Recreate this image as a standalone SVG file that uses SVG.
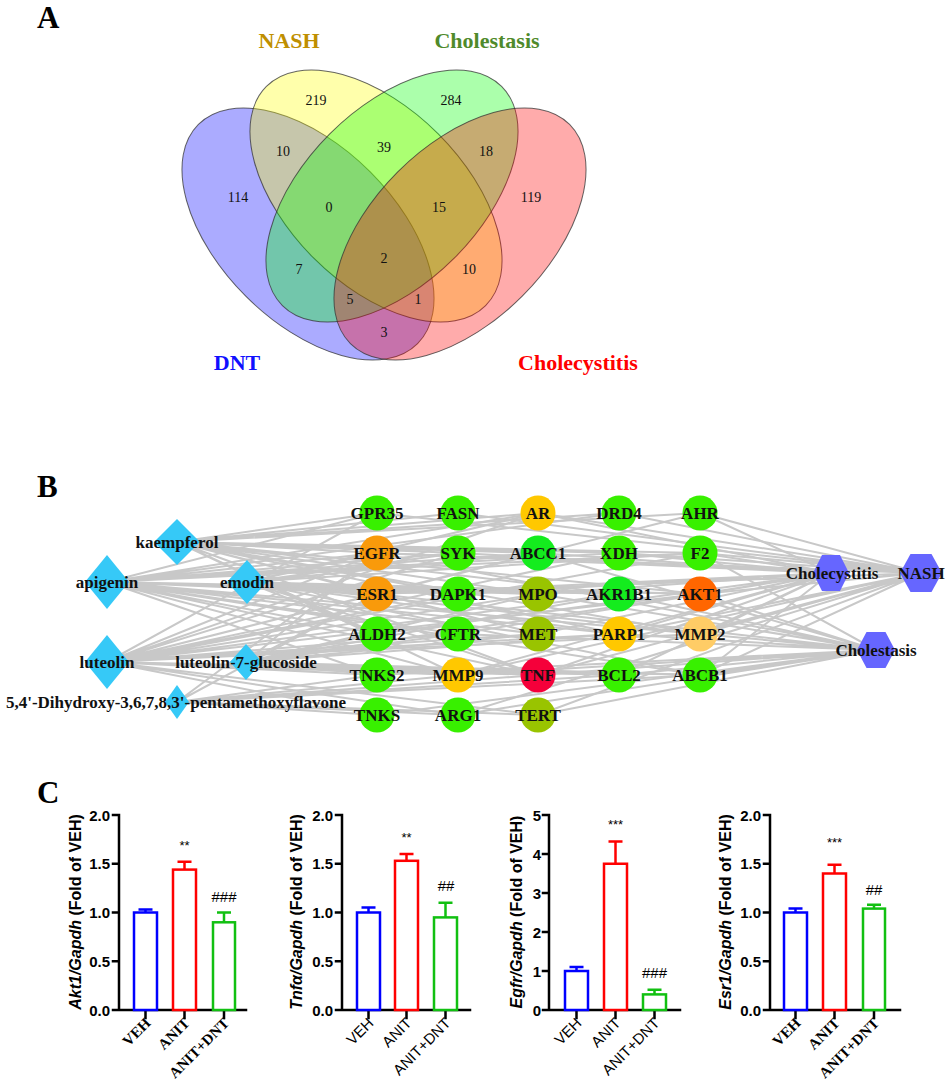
<svg xmlns="http://www.w3.org/2000/svg" width="945" height="1085" viewBox="0 0 945 1085">
<style>
.panel{font-family:"Liberation Serif",serif;font-weight:bold;font-size:31px}
.vn{font-family:"Liberation Serif",serif;font-size:14px;text-anchor:middle;fill:#111}
.vl{font-family:"Liberation Serif",serif;font-weight:bold;font-size:22px;text-anchor:middle}
.ell{stroke:#333;stroke-width:1;stroke-opacity:0.75;fill-opacity:0.33}
.edges path{stroke:#c8c8c8;stroke-width:2;fill:none}
.dia{fill:#36c9f7}
.hex{fill:#6666ff}
.nl{font-family:"Liberation Serif",serif;font-weight:bold;font-size:17px;text-anchor:middle;fill:#111}
.g{fill:#38f000}
.g2{fill:#14ec1e}
.or{fill:#f99a0b}
.au{fill:#ffc800}
.ol{fill:#99c400}
.ax{stroke:#000;stroke-width:2.5;fill:none;stroke-linecap:square}
.tk{font-family:"Liberation Sans",sans-serif;font-weight:bold;font-size:15px;text-anchor:end}
.yl{font-family:"Liberation Sans",sans-serif;font-weight:bold;font-size:16px;text-anchor:middle}
.it{font-style:italic}
.xs{font-family:"Liberation Serif",serif;font-weight:bold;font-size:15px;text-anchor:end}
.xa{font-family:"Liberation Sans",sans-serif;font-size:15px;text-anchor:end}
.st{font-family:"Liberation Sans",sans-serif;font-size:13px;text-anchor:middle}
.hs{font-family:"Liberation Sans",sans-serif;font-size:15px;text-anchor:middle}
.bb{fill:#fff;stroke:#0000ff;stroke-width:2.5}
.br{fill:#fff;stroke:#ff0000;stroke-width:2.5}
.bg{fill:#fff;stroke:#11c011;stroke-width:2.5}
.eb{stroke-width:2.5;fill:none}
</style>

<!-- Panel A -->
<text class="panel" x="37" y="28">A</text>
<g id="venn">
  <ellipse class="ell" cx="308" cy="234" rx="155" ry="88" transform="rotate(45 308 234)" fill="#0000ff"/>
  <ellipse class="ell" cx="376" cy="196" rx="155" ry="88" transform="rotate(45 376 196)" fill="#ffff00"/>
  <ellipse class="ell" cx="392" cy="196" rx="155" ry="88" transform="rotate(-45 392 196)" fill="#00ff00"/>
  <ellipse class="ell" cx="460" cy="234" rx="155" ry="88" transform="rotate(-45 460 234)" fill="#ff0000"/>
  <text class="vl" x="289" y="48" fill="#bf8f00">NASH</text>
  <text class="vl" x="487" y="48" fill="#4f8a2b">Cholestasis</text>
  <text class="vl" x="237" y="370" fill="#1010ff">DNT</text>
  <text class="vl" x="578" y="370" fill="#ff0000">Cholecystitis</text>
  <text class="vn" x="316" y="105">219</text>
  <text class="vn" x="451" y="105">284</text>
  <text class="vn" x="283" y="156">10</text>
  <text class="vn" x="384" y="152">39</text>
  <text class="vn" x="486" y="156">18</text>
  <text class="vn" x="238" y="202">114</text>
  <text class="vn" x="329" y="212">0</text>
  <text class="vn" x="439" y="212">15</text>
  <text class="vn" x="531" y="202">119</text>
  <text class="vn" x="384" y="263">2</text>
  <text class="vn" x="299" y="274">7</text>
  <text class="vn" x="469" y="274">10</text>
  <text class="vn" x="350" y="304">5</text>
  <text class="vn" x="418" y="304">1</text>
  <text class="vn" x="384" y="337">3</text>
</g>

<!-- Panel B -->
<text class="panel" x="37" y="497">B</text>
<g id="connectors" class="edges">
  <path d="M177 542L377 513M177 542L377 553M177 542L377 594M177 542L377 634M177 542L458 513M177 542L458 553M177 542L458 594M177 542L538 513M177 542L538 553M177 542L538 594M177 542L538 634M177 542L619 553M177 542L619 594M177 542L700 594M177 542L700 553M177 542L700 634M177 542L619 634M177 542L538 675M177 542L619 513M177 542L700 513M177 542L458 675"/>
  <path d="M107 582L377 513M107 582L377 553M107 582L377 594M107 582L377 634M107 582L377 675M107 582L458 553M107 582L458 594M107 582L458 634M107 582L458 675M107 582L538 513M107 582L538 553M107 582L538 594M107 582L538 634M107 582L619 553M107 582L619 594M107 582L700 594M107 582L700 553M107 582L619 634M107 582L700 634M107 582L538 675M107 582L700 675M107 582L619 513"/>
  <path d="M247 582L377 553M247 582L377 594M247 582L377 634M247 582L458 553M247 582L458 594M247 582L538 513M247 582L538 553M247 582L538 594M247 582L619 594M247 582L700 594M247 582L700 634M247 582L619 634M247 582L538 675M247 582L700 675M247 582L700 553"/>
  <path d="M107 662L377 513M107 662L377 553M107 662L377 594M107 662L377 675M107 662L377 715M107 662L458 553M107 662L458 594M107 662L458 634M107 662L458 675M107 662L458 715M107 662L538 513M107 662L538 553M107 662L538 594M107 662L538 634M107 662L538 675M107 662L538 715M107 662L619 553M107 662L619 594M107 662L619 634M107 662L619 675M107 662L700 594M107 662L700 634M107 662L700 675M107 662L700 553M107 662L700 513"/>
  <path d="M246 662L377 553M246 662L377 594M246 662L377 634M246 662L377 675M246 662L458 634M246 662L458 675M246 662L538 594M246 662L538 634M246 662L538 675M246 662L619 594M246 662L619 634M246 662L619 675M246 662L700 594M246 662L700 675"/>
  <path d="M177 702L377 715M177 702L377 675M177 702L458 715M177 702L538 715M177 702L458 675M177 702L538 675M177 702L377 594M177 702L377 553M177 702L619 675M177 702L700 675"/>
  <path d="M831 573L377 553M831 573L377 594M831 573L458 553M831 573L458 594M831 573L538 513M831 573L538 553M831 573L538 594M831 573L538 675M831 573L700 594M831 573L700 553M831 573L700 634M831 573L700 513M831 573L619 553M831 573L619 634M831 573L700 675M831 573L619 675M831 573L458 675M831 573L538 634M831 573L458 634M831 573L377 634"/>
  <path d="M921 573L700 513M921 573L700 553M921 573L700 594M921 573L700 634M921 573L700 675M921 573L377 594M921 573L377 553M921 573L458 513M921 573L377 513M921 573L538 675M921 573L619 553M921 573L538 513M921 573L458 675M921 573L538 715M921 573L458 715M921 573L619 634M921 573L619 513"/>
  <path d="M876 650L377 553M876 650L377 594M876 650L538 675M876 650L700 594M876 650L700 634M876 650L700 675M876 650L538 553M876 650L458 634M876 650L458 675M876 650L538 594M876 650L377 715M876 650L377 675M876 650L619 675M876 650L619 634M876 650L700 553M876 650L458 715M876 650L538 715M876 650L619 594"/>
</g>

<g id="kaempferol"><polygon class="dia" points="154,542 177,519 200,542 177,565"/><text class="nl" x="177" y="548">kaempferol</text></g>
<g id="apigenin"><polygon class="dia" points="85,582 107,555 129,582 107,609"/><text class="nl" x="107" y="588">apigenin</text></g>
<g id="emodin"><polygon class="dia" points="227,582 247,560 267,582 247,604"/><text class="nl" x="247" y="588">emodin</text></g>
<g id="luteolin"><polygon class="dia" points="85,662 107,635 129,662 107,689"/><text class="nl" x="107" y="668">luteolin</text></g>
<g id="luteolin-7-glucoside"><polygon class="dia" points="230,662 246,644 262,662 246,680"/><text class="nl" x="246" y="668">luteolin-7-glucoside</text></g>
<g id="pentamethoxyflavone"><polygon class="dia" points="165,702 177,685 189,702 177,719"/><text class="nl" x="176" y="708">5,4'-Dihydroxy-3,6,7,8,3'-pentamethoxyflavone</text></g>

<g id="GPR35"><circle class="g" cx="377" cy="513" r="17.5"/><text class="nl" x="377" y="519">GPR35</text></g>
<g id="FASN"><circle class="g" cx="458" cy="513" r="17.5"/><text class="nl" x="458" y="519">FASN</text></g>
<g id="AR"><circle class="au" cx="538" cy="513" r="17.5"/><text class="nl" x="538" y="519">AR</text></g>
<g id="DRD4"><circle class="g" cx="619" cy="513" r="17.5"/><text class="nl" x="619" y="519">DRD4</text></g>
<g id="AHR"><circle class="g" cx="700" cy="513" r="17.5"/><text class="nl" x="700" y="519">AHR</text></g>
<g id="EGFR"><circle class="or" cx="377" cy="553" r="17.5"/><text class="nl" x="377" y="559">EGFR</text></g>
<g id="SYK"><circle class="g" cx="458" cy="553" r="17.5"/><text class="nl" x="458" y="559">SYK</text></g>
<g id="ABCC1"><circle class="g2" cx="538" cy="553" r="17.5"/><text class="nl" x="538" y="559">ABCC1</text></g>
<g id="XDH"><circle class="g" cx="619" cy="553" r="17.5"/><text class="nl" x="619" y="559">XDH</text></g>
<g id="F2"><circle class="g" cx="700" cy="553" r="17.5"/><text class="nl" x="700" y="559">F2</text></g>
<g id="ESR1"><circle class="or" cx="377" cy="594" r="17.5"/><text class="nl" x="377" y="600">ESR1</text></g>
<g id="DAPK1"><circle class="g" cx="458" cy="594" r="17.5"/><text class="nl" x="458" y="600">DAPK1</text></g>
<g id="MPO"><circle class="ol" cx="538" cy="594" r="17.5"/><text class="nl" x="538" y="600">MPO</text></g>
<g id="AKR1B1"><circle class="g2" cx="619" cy="594" r="17.5"/><text class="nl" x="619" y="600">AKR1B1</text></g>
<g id="AKT1"><circle fill="#ff6600" cx="700" cy="594" r="17.5"/><text class="nl" x="700" y="600">AKT1</text></g>
<g id="ALDH2"><circle class="g" cx="377" cy="634" r="17.5"/><text class="nl" x="377" y="640">ALDH2</text></g>
<g id="CFTR"><circle class="g" cx="458" cy="634" r="17.5"/><text class="nl" x="458" y="640">CFTR</text></g>
<g id="MET"><circle class="ol" cx="538" cy="634" r="17.5"/><text class="nl" x="538" y="640">MET</text></g>
<g id="PARP1"><circle class="au" cx="619" cy="634" r="17.5"/><text class="nl" x="619" y="640">PARP1</text></g>
<g id="MMP2"><circle fill="#ffcc66" cx="700" cy="634" r="17.5"/><text class="nl" x="700" y="640">MMP2</text></g>
<g id="TNKS2"><circle class="g" cx="377" cy="675" r="17.5"/><text class="nl" x="377" y="681">TNKS2</text></g>
<g id="MMP9"><circle class="au" cx="458" cy="675" r="17.5"/><text class="nl" x="458" y="681">MMP9</text></g>
<g id="TNF"><circle fill="#f5003a" cx="538" cy="675" r="17.5"/><text class="nl" x="538" y="681">TNF</text></g>
<g id="BCL2"><circle class="g" cx="619" cy="675" r="17.5"/><text class="nl" x="619" y="681">BCL2</text></g>
<g id="ABCB1"><circle class="g" cx="700" cy="675" r="17.5"/><text class="nl" x="700" y="681">ABCB1</text></g>
<g id="TNKS"><circle class="g" cx="377" cy="715" r="17.5"/><text class="nl" x="377" y="721">TNKS</text></g>
<g id="ARG1"><circle class="g" cx="458" cy="715" r="17.5"/><text class="nl" x="458" y="721">ARG1</text></g>
<g id="TERT"><circle class="ol" cx="538" cy="715" r="17.5"/><text class="nl" x="538" y="721">TERT</text></g>

<g id="Cholecystitis"><polygon class="hex" points="813,573 822,555 840,555 849,573 840,591 822,591"/><text class="nl" x="832" y="579">Cholecystitis</text></g>
<g id="NASH"><polygon class="hex" points="900,573 910.5,554 931.5,554 942,573 931.5,592 910.5,592"/><text class="nl" x="921" y="579">NASH</text></g>
<g id="Cholestasis"><polygon class="hex" points="857,650 866.5,632 885.5,632 895,650 885.5,668 866.5,668"/><text class="nl" x="876" y="656">Cholestasis</text></g>

<!-- Panel C -->
<text class="panel" x="37" y="803">C</text>

<g id="chart-akt1">
  <path class="ax" d="M119 815V1010M113 815H119M113 863.75H119M113 912.5H119M113 961.25H119M113 1010H246M145.5 1010V1018M184.5 1010V1018M224 1010V1018"/>
  <text class="tk" x="110" y="820.5">2.0</text>
  <text class="tk" x="110" y="869.25">1.5</text>
  <text class="tk" x="110" y="918">1.0</text>
  <text class="tk" x="110" y="966.75">0.5</text>
  <text class="tk" x="110" y="1015.5">0.0</text>
  <rect class="bb" x="134" y="912.5" width="23" height="97.5"/>
  <rect class="br" x="173" y="869.6" width="23" height="140.4"/>
  <rect class="bg" x="213" y="922.3" width="22" height="87.7"/>
  <path class="eb" stroke="#0000ff" d="M145.5 912.5V909.6M138.5 909.6H152.5"/>
  <path class="eb" stroke="#ff0000" d="M184.5 869.6V861.8M177.5 861.8H191.5"/>
  <path class="eb" stroke="#11c011" d="M224 922.3V912.5M217 912.5H231"/>
  <text class="st" x="184.5" y="850">**</text>
  <text class="hs" x="224" y="902">###</text>
  <text class="yl" transform="translate(81 912) rotate(-90)"><tspan class="it">Akt1/Gapdh</tspan> (Fold of VEH)</text>
  <text class="xs" transform="translate(151.5 1024) rotate(-45)">VEH</text>
  <text class="xs" transform="translate(190.5 1024) rotate(-45)">ANIT</text>
  <text class="xs" transform="translate(230 1024) rotate(-45)">ANIT+DNT</text>
</g>

<g id="chart-tnfa">
  <path class="ax" d="M342 815V1010M336 815H342M336 863.75H342M336 912.5H342M336 961.25H342M336 1010H470M368.5 1010V1018M406.5 1010V1018M445.5 1010V1018"/>
  <text class="tk" x="333" y="820.5">2.0</text>
  <text class="tk" x="333" y="869.25">1.5</text>
  <text class="tk" x="333" y="918">1.0</text>
  <text class="tk" x="333" y="966.75">0.5</text>
  <text class="tk" x="333" y="1015.5">0.0</text>
  <rect class="bb" x="357" y="912.5" width="23" height="97.5"/>
  <rect class="br" x="395" y="860.8" width="23" height="149.2"/>
  <rect class="bg" x="434" y="917.4" width="23" height="92.6"/>
  <path class="eb" stroke="#0000ff" d="M368.5 912.5V907.6M361.5 907.6H375.5"/>
  <path class="eb" stroke="#ff0000" d="M406.5 860.8V854M399.5 854H413.5"/>
  <path class="eb" stroke="#11c011" d="M445.5 917.4V902.75M438.5 902.75H452.5"/>
  <text class="st" x="406.5" y="842">**</text>
  <text class="hs" x="446" y="891">##</text>
  <text class="yl" transform="translate(302 912) rotate(-90)"><tspan class="it">Tnfα/Gapdh</tspan> (Fold of VEH)</text>
  <text class="xa" transform="translate(374.5 1024) rotate(-45)">VEH</text>
  <text class="xa" transform="translate(412.5 1024) rotate(-45)">ANIT</text>
  <text class="xa" transform="translate(451.5 1024) rotate(-45)">ANIT+DNT</text>
</g>

<g id="chart-egfr">
  <path class="ax" d="M549 815V1010M543 815H549M543 854H549M543 893H549M543 932H549M543 971H549M543 1010H680M576.5 1010V1018M615.5 1010V1018M654.5 1010V1018"/>
  <text class="tk" x="541" y="820.5">5</text>
  <text class="tk" x="541" y="859.5">4</text>
  <text class="tk" x="541" y="898.5">3</text>
  <text class="tk" x="541" y="937.5">2</text>
  <text class="tk" x="541" y="976.5">1</text>
  <text class="tk" x="541" y="1015.5">0</text>
  <rect class="bb" x="565" y="971" width="23" height="39"/>
  <rect class="br" x="604" y="863.75" width="23" height="146.25"/>
  <rect class="bg" x="643" y="994.4" width="23" height="15.6"/>
  <path class="eb" stroke="#0000ff" d="M576.5 971V967.1M569.5 967.1H583.5"/>
  <path class="eb" stroke="#ff0000" d="M615.5 863.75V841.5M608.5 841.5H622.5"/>
  <path class="eb" stroke="#11c011" d="M654.5 994.4V989.7M647.5 989.7H661.5"/>
  <text class="st" x="615.5" y="829">***</text>
  <text class="hs" x="654.5" y="978">###</text>
  <text class="yl" transform="translate(522 912) rotate(-90)"><tspan class="it">Egfr/Gapdh</tspan> (Fold of VEH)</text>
  <text class="xa" transform="translate(582.5 1024) rotate(-45)">VEH</text>
  <text class="xa" transform="translate(621.5 1024) rotate(-45)">ANIT</text>
  <text class="xa" transform="translate(660.5 1024) rotate(-45)">ANIT+DNT</text>
</g>

<g id="chart-esr1">
  <path class="ax" d="M770 815V1010M764 815H770M764 863.75H770M764 912.5H770M764 961.25H770M764 1010H900M795.5 1010V1018M834.5 1010V1018M874 1010V1018"/>
  <text class="tk" x="761" y="820.5">2.0</text>
  <text class="tk" x="761" y="869.25">1.5</text>
  <text class="tk" x="761" y="918">1.0</text>
  <text class="tk" x="761" y="966.75">0.5</text>
  <text class="tk" x="761" y="1015.5">0.0</text>
  <rect class="bb" x="784" y="912.5" width="23" height="97.5"/>
  <rect class="br" x="823" y="873.5" width="23" height="136.5"/>
  <rect class="bg" x="863" y="908.6" width="22" height="101.4"/>
  <path class="eb" stroke="#0000ff" d="M795.5 912.5V908.6M788.5 908.6H802.5"/>
  <path class="eb" stroke="#ff0000" d="M834.5 873.5V864.7M827.5 864.7H841.5"/>
  <path class="eb" stroke="#11c011" d="M874 908.6V904.7M867 904.7H881"/>
  <text class="st" x="834.5" y="847">***</text>
  <text class="hs" x="874" y="895">##</text>
  <text class="yl" transform="translate(731 912) rotate(-90)"><tspan class="it">Esr1/Gapdh</tspan> (Fold of VEH)</text>
  <text class="xs" transform="translate(801.5 1024) rotate(-45)">VEH</text>
  <text class="xs" transform="translate(840.5 1024) rotate(-45)">ANIT</text>
  <text class="xs" transform="translate(880 1024) rotate(-45)">ANIT+DNT</text>
</g>
</svg>
